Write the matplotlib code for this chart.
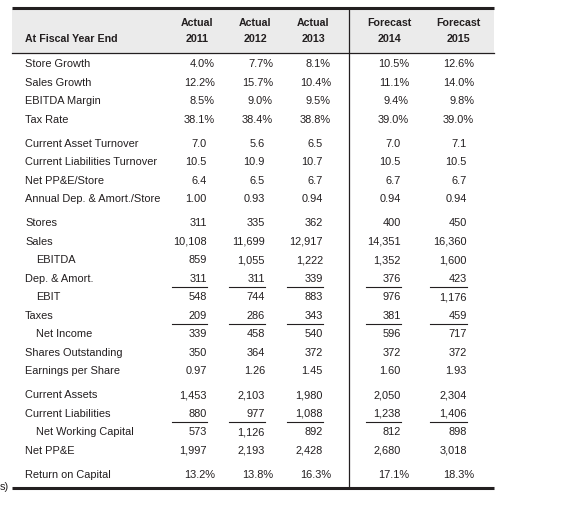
import matplotlib
matplotlib.use("Agg")
import matplotlib.pyplot as plt

plt.rcParams['font.family'] = ['Liberation Sans', 'DejaVu Sans']

# column headers
kinds = ["Actual", "Actual", "Actual", "Forecast", "Forecast"]
years = ["2011", "2012", "2013", "2014", "2015"]

# rows: (label, indented, format, values)
store_growth = [4.0, 7.7, 8.1, 10.5, 12.6]
sales_growth = [12.2, 15.7, 10.4, 11.1, 14.0]
ebitda_margin = [8.5, 9.0, 9.5, 9.4, 9.8]
tax_rate = [38.1, 38.4, 38.8, 39.0, 39.0]

ca_turnover = [7.0, 5.6, 6.5, 7.0, 7.1]
cl_turnover = [10.5, 10.9, 10.7, 10.5, 10.5]
ppe_per_store = [6.4, 6.5, 6.7, 6.7, 6.7]
da_per_store = [1.00, 0.93, 0.94, 0.94, 0.94]

stores = [311, 335, 362, 400, 450]
sales = [10108, 11699, 12917, 14351, 16360]
ebitda = [859, 1055, 1222, 1352, 1600]
dep_amort = [311, 311, 339, 376, 423]
ebit = [548, 744, 883, 976, 1176]
taxes = [209, 286, 343, 381, 459]
net_income = [339, 458, 540, 596, 717]
shares_out = [350, 364, 372, 372, 372]
eps = [0.97, 1.26, 1.45, 1.60, 1.93]

current_assets = [1453, 2103, 1980, 2050, 2304]
current_liab = [880, 977, 1088, 1238, 1406]
net_wc = [573, 1126, 892, 812, 898]
net_ppe = [1997, 2193, 2428, 2680, 3018]

return_on_capital = [13.2, 13.8, 16.3, 17.1, 18.3]

groups = [
    [("Store Growth", False, "pct", store_growth),
     ("Sales Growth", False, "pct", sales_growth),
     ("EBITDA Margin", False, "pct", ebitda_margin),
     ("Tax Rate", False, "pct", tax_rate)],
    [("Current Asset Turnover", False, "f1", ca_turnover),
     ("Current Liabilities Turnover", False, "f1", cl_turnover),
     ("Net PP&E/Store", False, "f1", ppe_per_store),
     ("Annual Dep. & Amort./Store", False, "f2", da_per_store)],
    [("Stores", False, "int", stores),
     ("Sales", False, "int", sales),
     ("EBITDA", True, "int", ebitda),
     ("Dep. & Amort.", False, "int", dep_amort),
     ("EBIT", True, "int", ebit),
     ("Taxes", False, "int", taxes),
     ("Net Income", True, "int", net_income),
     ("Shares Outstanding", False, "int", shares_out),
     ("Earnings per Share", False, "f2", eps)],
    [("Current Assets", False, "int", current_assets),
     ("Current Liabilities", False, "int", current_liab),
     ("Net Working Capital", True, "int", net_wc),
     ("Net PP&E", False, "int", net_ppe)],
    [("Return on Capital", False, "pct", return_on_capital)],
]
underlined = ["Dep. & Amort.", "Taxes", "Current Liabilities"]


def fmt(v, kind):
    if kind == "pct":
        return f"{v:.1f}%"
    if kind == "f1":
        return f"{v:.1f}"
    if kind == "f2":
        return f"{v:.2f}"
    return f"{v:,}"


W, H = 577, 517
fig = plt.figure(figsize=(W / 100, H / 100), dpi=100)
ax = fig.add_axes([0, 0, 1, 1])
ax.set_xlim(0, W)
ax.set_ylim(H, 0)
ax.axis("off")

ink = "#231f20"
fs = 7.9
fs_head = 7.7

col_center = [197, 255, 313, 389, 458]
num_right = [207, 265, 323, 401, 467]
pct_right = [215, 273, 331, 409, 474]
ul_left = [172, 229, 287, 366, 430]

# header band
ax.fill_between([12, 494], 9, 53, color="#ebebeb", lw=0)
ax.plot([12, 494], [8, 8], color=ink, lw=2.2, solid_capstyle="butt")
ax.plot([12, 494], [53.3, 53.3], color=ink, lw=0.9)
ax.plot([349, 349], [9, 487], color=ink, lw=0.9)
ax.plot([12, 494], [488, 488], color=ink, lw=2.2, solid_capstyle="butt")

ax.text(25, 39, "At Fiscal Year End", fontsize=fs_head, fontweight="bold",
        color=ink, va="center", ha="left")
for k, yr, cx in zip(kinds, years, col_center):
    ax.text(cx, 23.5, k, fontsize=fs_head, fontweight="bold", color=ink,
            va="center", ha="center")
    ax.text(cx, 39, yr, fontsize=fs_head, fontweight="bold", color=ink,
            va="center", ha="center")

i = 0
for g, rows in enumerate(groups):
    for label, indent, kind, vals in rows:
        y = 64.3 + 18.45 * i + 5.8 * g
        ax.text(36 if indent else 25, y, label, fontsize=fs, color=ink,
                va="center", ha="left")
        for c, v in enumerate(vals):
            xr = pct_right[c] if kind == "pct" else num_right[c]
            ax.text(xr, y, fmt(v, kind), fontsize=fs, color=ink,
                    va="center", ha="right")
            if label in underlined:
                ax.plot([ul_left[c], num_right[c]], [y + 8, y + 8],
                        color=ink, lw=0.8)
        i += 1

ax.text(9, 487, "s)", fontsize=fs, color=ink, va="center", ha="right")

fig.savefig("out.png", dpi=100)
